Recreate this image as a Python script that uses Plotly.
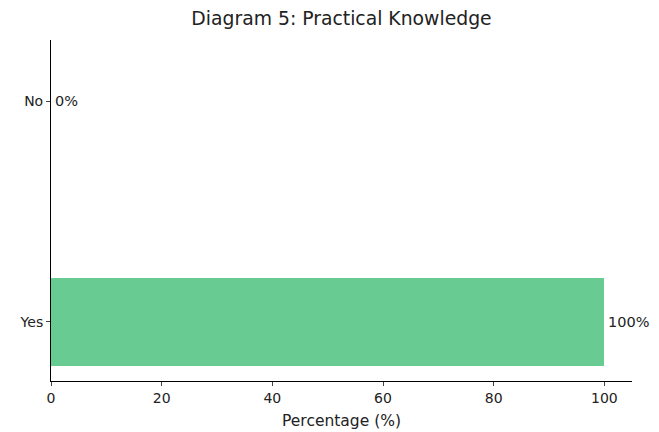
import plotly.graph_objects as go

categories = ["Yes", "No"]
values = [100, 0]
labels = ["100%", "0%"]
x_ticks = [0, 20, 40, 60, 80, 100]

W, H = 651, 424
L, T = 43, 32

fig = go.Figure()
fig.add_trace(go.Bar(
    y=categories, x=values, orientation="h", width=0.4,
    marker=dict(color="rgb(104,204,146)", line=dict(width=0)),
    hoverinfo="skip",
))
for c, v, t in zip(categories, values, labels):
    fig.add_annotation(x=v, y=c, text=t, showarrow=False, xanchor="left",
                       xshift=3, borderpad=0, font=dict(size=14.5, color="#222"))

fig.update_layout(
    width=W, height=H,
    margin=dict(l=L, r=27, t=T, b=51, autoexpand=False),
    paper_bgcolor="white", plot_bgcolor="white",
    font=dict(family="DejaVu Sans", size=14, color="#222"),
    title=dict(text="Diagram 5: Practical Knowledge", x=333.5 / W,
               xanchor="center", y=1 - 10 / H, yanchor="middle",
               font=dict(size=18.8, color="#222")),
    showlegend=False,
    bargap=0,
)
fig.update_xaxes(range=[0, 105], tickvals=x_ticks, ticks="outside", ticklen=4,
                 showline=True, linecolor="black", linewidth=1, showgrid=False,
                 zeroline=False, title=dict(text="Percentage (%)", font=dict(size=15.5), standoff=10),
                 tickfont=dict(size=14))
fig.update_yaxes(categoryorder="array", categoryarray=categories,
                 range=[-0.267, 1.276], ticks="outside", ticklen=4,
                 showline=True, linecolor="black", linewidth=1, showgrid=False,
                 zeroline=False, tickfont=dict(size=14))

fig.write_html("out.html")
